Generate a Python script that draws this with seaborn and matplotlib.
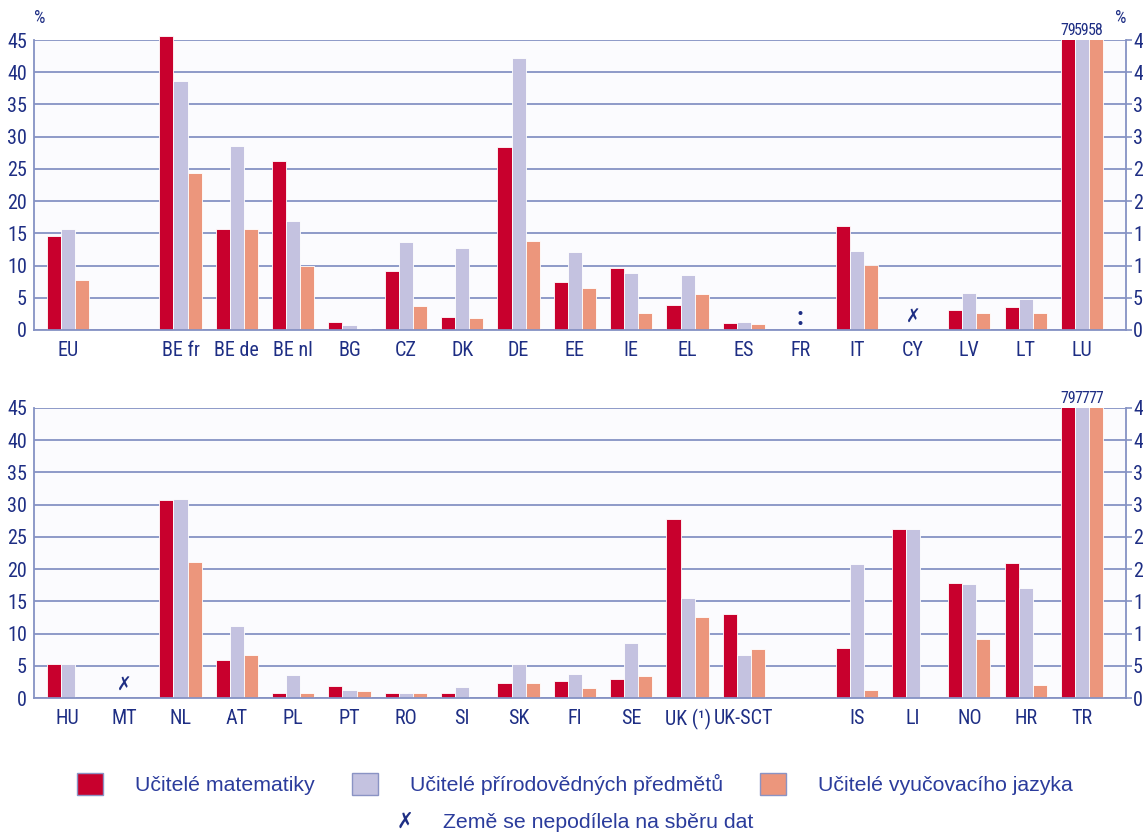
import numpy as np
import pandas as pd
import matplotlib
matplotlib.use("Agg")
import matplotlib.pyplot as plt
from matplotlib import font_manager as fm
import seaborn as sns
from matplotlib.patches import Patch

nan = np.nan

# ---------------- data ----------------
series = ["Učitelé matematiky", "Učitelé přírodovědných předmětů", "Učitelé vyučovacího jazyka"]
colors = ["#C8002D", "#C4C2E0", "#EC967C"]

top_order = ["EU", "", "BE fr", "BE de", "BE nl", "BG", "CZ", "DK", "DE", "EE", "IE",
             "EL", "ES", "FR", "IT", "CY", "LV", "LT", "LU"]
top_math = [14.6, nan, 45.6, 15.6, 26.3, 1.3, 9.1, 2.0, 28.4, 7.5, 9.6, 3.9, 1.1, nan, 16.1, nan, 3.1, 3.5, 79]
top_sci = [15.6, nan, 38.7, 28.6, 16.9, 0.8, 13.7, 12.8, 42.2, 12.1, 8.8, 8.5, 1.2, nan, 12.3, nan, 5.8, 4.8, 59]
top_lang = [7.8, nan, 24.4, 15.6, 10.0, 0.15, 3.7, 1.8, 13.8, 6.5, 2.7, 5.6, 1.0, nan, 10.1, nan, 2.6, 2.6, 58]

bot_order = ["HU", "MT", "NL", "AT", "PL", "PT", "RO", "SI", "SK", "FI", "SE", "UK (¹)",
             "UK-SCT", "", "IS", "LI", "NO", "HR", "TR"]
bot_math = [5.2, nan, 30.7, 5.9, 0.7, 1.9, 0.7, 0.7, 2.4, 2.6, 2.9, 27.7, 13.0, nan, 7.7, 26.3, 17.8, 20.9, 79]
bot_sci = [5.3, nan, 30.9, 11.1, 3.5, 1.3, 0.7, 1.7, 5.3, 3.7, 8.6, 15.5, 6.7, nan, 20.8, 26.3, 17.7, 17.0, 77]
bot_lang = [0.0, nan, 21.1, 6.7, 0.7, 1.1, 0.7, 0.0, 2.3, 1.6, 3.4, 12.6, 7.6, nan, 1.3, 0.0, 9.1, 2.0, 77]

top_colon = ["FR"]        # ':' no data
top_cross = ["CY"]        # country did not participate
bot_cross = ["MT"]

yticks = [0, 5, 10, 15, 20, 25, 30, 35, 40, 45]


def long_df(order, a, b, c):
    rows = []
    for i, cty in enumerate(order):
        for s, vals in zip(series, (a, b, c)):
            v = vals[i]
            if cty and not np.isnan(v):
                rows.append({"country": cty, "series": s, "value": v})
    return pd.DataFrame(rows)


# ---------------- fonts ----------------
def find_condensed():
    def is_cond(f):
        s = f.stretch
        if isinstance(s, str) and "condensed" in s:
            return True
        if isinstance(s, (int, float)) and s <= 400:
            return True
        return "Narrow" in f.name or "Condensed" in f.name
    prefs = ["Liberation Sans Narrow", "Roboto Condensed", "Open Sans Condensed",
             "Noto Sans Condensed", "Noto Sans", "Roboto", "Open Sans", "DejaVu Sans"]
    conds = [f for f in fm.fontManager.ttflist if is_cond(f) and "Mono" not in f.name
             and "Serif" not in f.name and "CJK" not in f.name]
    for p in prefs:
        for f in conds:
            if f.name == p:
                return f.name, f.stretch
    if conds:
        return conds[0].name, conds[0].stretch
    return None, None


cname, cstretch = find_condensed()

sns.set_theme(style="white")
if cname:
    plt.rcParams["font.family"] = [cname, "DejaVu Sans"]
    plt.rcParams["font.stretch"] = cstretch if isinstance(cstretch, str) else "condensed"
    TS = 14.5     # tick size
    NS = 11.5     # number-over-bar size
else:
    plt.rcParams["font.family"] = ["Liberation Sans", "DejaVu Sans"]
    TS = 13
    NS = 9.5

TXT = "#1E2E84"
GRID = "#8592C4"
BG = "#FBFBFE"
LEG = "#2B3C9C"
LS = 15.3        # legend text size

fig = plt.figure(figsize=(11.43, 8.33), dpi=100)
fig.patch.set_facecolor("white")

W, H = 1143, 833
left, right = 34 / W, 1126 / W
ax_top = fig.add_axes([left, 1 - 330 / H, right - left, 290 / H])
ax_bot = fig.add_axes([left, 1 - 698 / H, right - left, 290 / H])


def draw(ax, order, a, b, c, colon=(), cross=()):
    df = long_df(order, a, b, c)
    sns.barplot(data=df, x="country", y="value", hue="series", order=order,
                hue_order=series, palette=colors, saturation=1, width=0.75,
                dodge=True, legend=False, ax=ax, edgecolor="white", linewidth=0.6,
                errorbar=None)
    ax.set_facecolor(BG)
    ax.set_ylim(0, 45)
    ax.set_xlim(-0.6, len(order) - 1 + 0.78)
    ax.set_yticks(yticks)
    ax.set_yticklabels([str(t) for t in yticks])
    ax.yaxis.grid(True, color=GRID, lw=1.3)
    ax.set_axisbelow(True)
    ax.set_xlabel("")
    ax.set_ylabel("")
    ax.set_xticks(range(len(order)))
    ax.set_xticklabels(order)
    ax.tick_params(axis="x", length=0, pad=8, labelsize=TS, labelcolor=TXT)
    ax.tick_params(axis="y", left=False, right=True, labelleft=True, labelright=True,
                   length=4, width=1.2, color=GRID, labelsize=TS, labelcolor=TXT, pad=1)
    for side in ("left", "right", "bottom"):
        ax.spines[side].set_visible(True)
        ax.spines[side].set_color(GRID)
        ax.spines[side].set_linewidth(1.3)
    ax.spines["top"].set_visible(False)
    for p in ax.patches:
        h = p.get_height()
        if not np.isfinite(h):
            continue
        if 45 < h < 50:
            p.set_clip_on(False)          # slightly over the scale, drawn in full
        elif h >= 50:                     # far beyond the scale: cut and labelled
            ax.text(p.get_x() + p.get_width() / 2, 45.3, f"{h:.0f}", ha="center",
                    va="bottom", fontsize=NS, color=TXT, clip_on=False)
    for cty in colon:
        ax.text(order.index(cty), 1.8, ":", ha="center", va="center", fontsize=18,
                fontweight="bold", color=TXT)
    for cty in cross:
        ax.text(order.index(cty), 1.9, "✗", ha="center", va="center", fontsize=14,
                fontweight="bold", color=TXT, family="DejaVu Sans")


draw(ax_top, top_order, top_math, top_sci, top_lang, top_colon, top_cross)
draw(ax_bot, bot_order, bot_math, bot_sci, bot_lang, (), bot_cross)

fig.text(40 / W, 1 - 18 / H, "%", fontsize=13, color=TXT, ha="center", va="center")
fig.text(1121 / W, 1 - 18 / H, "%", fontsize=13, color=TXT, ha="center", va="center")

handles = [Patch(facecolor=c, edgecolor="#8A93C4", linewidth=1.0) for c in colors]
fig.legend(handles, series, loc="center", bbox_to_anchor=(575 / W, 1 - 784 / H),
           ncol=3, frameon=False, handlelength=1.22, handleheight=1.22,
           handletextpad=1.5, columnspacing=1.75, labelcolor=LEG,
           prop={"family": ["Liberation Sans", "DejaVu Sans"], "size": LS,
                 "stretch": "normal"})

fig.text(405 / W, 1 - 822 / H, "✗", fontsize=16, fontweight="bold", color=TXT,
         ha="center", va="center", family="DejaVu Sans")
fig.text(443 / W, 1 - 822 / H, "Země se nepodílela na sběru dat", fontsize=LS,
         color=LEG, ha="left", va="center", family=["Liberation Sans", "DejaVu Sans"],
         fontstretch="normal")

fig.savefig("out.png", dpi=100, facecolor="white")
